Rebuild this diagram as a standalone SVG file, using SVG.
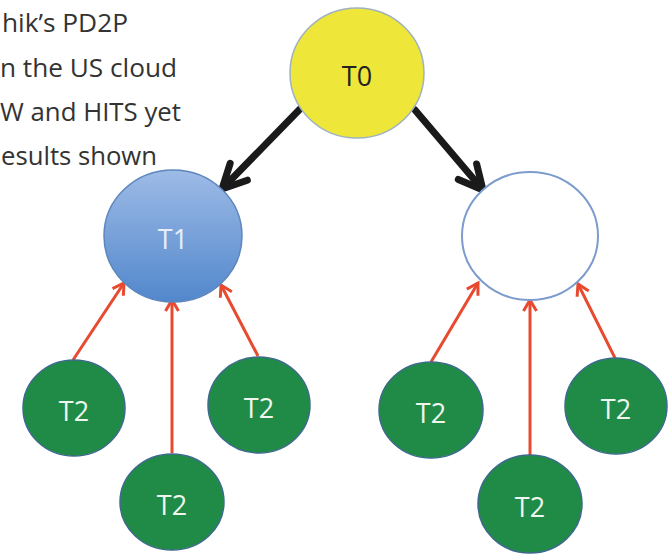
<svg xmlns="http://www.w3.org/2000/svg" width="670" height="554" viewBox="0 0 670 554">
  <style>
    .note { font-family: "Open Sans", "Liberation Sans", sans-serif; font-size: 25px; fill: #333333; }
    .lbl { font-family: "Open Sans", "Liberation Sans", sans-serif; font-size: 27px; text-anchor: middle; dominant-baseline: central; }
    .leaf ellipse { fill: #1f8b47; stroke: #3d6a8c; stroke-width: 1.5; }
    .leaf text { fill: #eef6ee; }
    .up { stroke: #e84a30; stroke-width: 3; fill: none; marker-end: url(#redHead); }
    .down { stroke: #1a1a1a; stroke-width: 7; stroke-linecap: round; fill: none; marker-end: url(#blackHead); }
  </style>
  <defs>
    <linearGradient id="blueFill" x1="0" y1="0" x2="0" y2="1">
      <stop offset="0" stop-color="#9dbbe6"/>
      <stop offset="1" stop-color="#5287cc"/>
    </linearGradient>
    <marker id="redHead" markerUnits="userSpaceOnUse" markerWidth="16" markerHeight="16" viewBox="0 0 16 16" refX="13" refY="8" orient="auto" overflow="visible">
      <path d="M2,1.5 L13,8 L2,14.5" fill="none" stroke="#e84a30" stroke-width="3"/>
    </marker>
    <marker id="blackHead" markerUnits="userSpaceOnUse" markerWidth="30" markerHeight="30" viewBox="0 0 30 30" refX="26" refY="15" orient="auto" overflow="visible">
      <path d="M2,3 L26,15 L2,27" fill="none" stroke="#1a1a1a" stroke-width="7" stroke-linecap="round" stroke-linejoin="round"/>
    </marker>
  </defs>

  <rect width="670" height="554" fill="#ffffff"/>

  <!-- notes text at the top left, cropped by the left edge -->
  <g id="notes">
    <text class="note" x="2" y="32" textLength="126" lengthAdjust="spacingAndGlyphs">hik’s PD2P</text>
    <text class="note" x="0" y="77" textLength="177" lengthAdjust="spacingAndGlyphs">n the US cloud</text>
    <text class="note" x="0" y="121" textLength="181" lengthAdjust="spacingAndGlyphs">W and HITS yet</text>
    <text class="note" x="1" y="165" textLength="156" lengthAdjust="spacingAndGlyphs">esults shown</text>
  </g>

  <g id="connectors">
    <line class="down" x1="300" y1="109" x2="222" y2="189"/>
    <line class="down" x1="415" y1="110" x2="483" y2="190"/>
    <line class="up" x1="73" y1="360" x2="124" y2="283"/>
    <line class="up" x1="172" y1="453" x2="172" y2="300"/>
    <line class="up" x1="258" y1="356" x2="221" y2="285"/>
    <line class="up" x1="431" y1="362" x2="478" y2="283"/>
    <line class="up" x1="530" y1="455" x2="530" y2="300"/>
    <line class="up" x1="615" y1="358" x2="578" y2="284"/>
  </g>

  <g id="t0">
    <ellipse cx="357" cy="73" rx="67" ry="65" fill="#eee638" stroke="#9fb2c0" stroke-width="1.5"/>
    <text class="lbl" x="357" y="75" fill="#222222">T0</text>
  </g>

  <g id="t1">
    <ellipse cx="173" cy="236" rx="69" ry="66" fill="url(#blueFill)" stroke="#5d86bd" stroke-width="1.5"/>
    <text class="lbl" x="173" y="238" fill="#e6eef9">T1</text>
  </g>

  <g id="empty">
    <ellipse cx="530" cy="236" rx="68" ry="64" fill="#ffffff" stroke="#7c9cce" stroke-width="2"/>
  </g>

  <g id="t2-a" class="leaf">
    <ellipse cx="74" cy="408" rx="51" ry="48"/>
    <text class="lbl" x="74" y="410">T2</text>
  </g>
  <g id="t2-b" class="leaf">
    <ellipse cx="172" cy="502" rx="52" ry="48"/>
    <text class="lbl" x="172" y="504">T2</text>
  </g>
  <g id="t2-c" class="leaf">
    <ellipse cx="259" cy="405" rx="51" ry="48"/>
    <text class="lbl" x="259" y="407">T2</text>
  </g>
  <g id="t2-d" class="leaf">
    <ellipse cx="431" cy="410" rx="52" ry="48"/>
    <text class="lbl" x="431" y="412">T2</text>
  </g>
  <g id="t2-e" class="leaf">
    <ellipse cx="530" cy="504" rx="52" ry="49"/>
    <text class="lbl" x="530" y="506">T2</text>
  </g>
  <g id="t2-f" class="leaf">
    <ellipse cx="616" cy="406" rx="51" ry="48"/>
    <text class="lbl" x="616" y="408">T2</text>
  </g>
</svg>
